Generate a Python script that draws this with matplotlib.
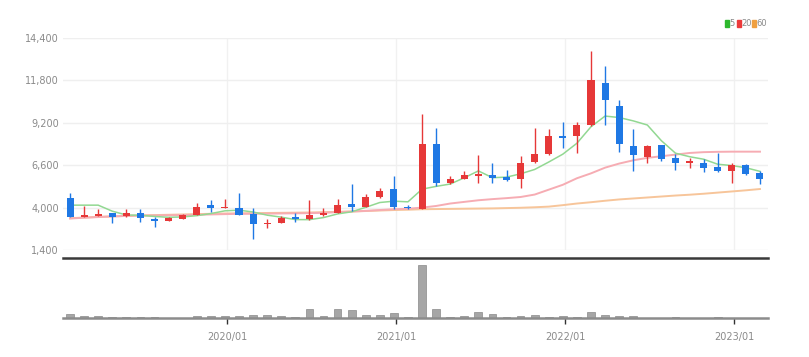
import matplotlib
matplotlib.use('Agg')
import matplotlib.pyplot as plt
from matplotlib.patches import Rectangle
import pandas as pd

# monthly candles, 2019/02 .. 2023/03
months = pd.date_range('2019-02-01', periods=50, freq='MS')

opens = [4610, 3450, 3510, 3650, 3480, 3650, 3320, 3180, 3320, 3550,
         4140, 3960, 3950, 3590, 2980, 3080, 3420, 3280, 3530, 3690,
         4200, 4060, 4650, 5120, 4060, 3940, 7920, 5490, 5775, 5940,
         6000, 5880, 5735, 6795, 7270, 8390, 8390, 9065, 11660, 10230,
         7780, 7125, 7820, 7065, 6735, 6760, 6490, 6245, 6595, 6100]
highs = [4880, 4100, 3940, 3680, 3940, 3940, 3400, 3420, 3620, 4260,
         4450, 4510, 4870, 4000, 3300, 3480, 3690, 4450, 4000, 4510,
         5470, 4820, 5230, 5940, 4180, 9720, 8900, 5940, 6250, 7225,
         6715, 6300, 7160, 8900, 8840, 9270, 9250, 13600, 12680, 10580,
         8800, 7850, 7850, 7270, 7065, 7000, 7370, 6760, 6700, 6250]
lows = [3420, 3430, 3500, 3080, 3450, 3120, 2830, 3150, 3300, 3520,
        3750, 3950, 3520, 2060, 2720, 3060, 3120, 3260, 3500, 3680,
        3790, 4040, 4600, 3900, 3900, 3900, 5330, 5450, 5750, 5530,
        5490, 5650, 5200, 6760, 7200, 7640, 7370, 9000, 9045, 7410,
        6245, 6760, 6860, 6290, 6450, 6185, 6200, 5530, 5980, 5430]
closes = [3450, 3550, 3630, 3450, 3650, 3360, 3200, 3360, 3570, 4040,
          4000, 4040, 3560, 3020, 3060, 3390, 3290, 3550, 3650, 4180,
          4040, 4670, 5020, 4060, 3980, 7920, 5530, 5735, 5980, 6085,
          5840, 5700, 6760, 7310, 8370, 8250, 9045, 11820, 10580, 7920,
          7225, 7780, 7000, 6760, 6840, 6450, 6245, 6595, 6085, 5735]
volumes = [800, 430, 430, 250, 250, 250, 250, 60, 60, 430,
           430, 320, 430, 560, 560, 430, 190, 1750, 430, 1750,
           1440, 560, 560, 1000, 190, 10000, 1750, 190, 380, 1130,
           750, 190, 380, 500, 190, 380, 190, 1130, 500, 430,
           380, 80, 80, 190, 60, 60, 190, 60, 60, 60]

# moving averages as drawn on the chart
ma5 = [4150, 4150, 4150, 3780, 3546, 3528, 3458, 3404, 3428, 3506,
       3634, 3802, 3842, 3732, 3536, 3414, 3264, 3262, 3388, 3612,
       3742, 4018, 4312, 4394, 4354, 5130, 5302, 5445, 5829, 6250,
       5834, 5868, 6073, 6339, 6796, 7278, 7947, 8959, 9613, 9523,
       9318, 9065, 8101, 7337, 7121, 6966, 6659, 6578, 6443, 6222]
ma20 = [3330, 3380, 3420, 3460, 3490, 3510, 3520, 3530, 3540, 3560,
        3580, 3600, 3620, 3620, 3630, 3640, 3650, 3660, 3680, 3720,
        3760, 3800, 3850, 3900, 3930, 4000, 4100, 4250, 4350, 4450,
        4520, 4580, 4650, 4800, 5100, 5400, 5800, 6100, 6450, 6700,
        6900, 7050, 7150, 7250, 7350, 7400, 7420, 7430, 7430, 7430]
ma60 = [3350, 3390, 3430, 3460, 3490, 3520, 3540, 3560, 3580, 3600,
        3620, 3640, 3650, 3660, 3670, 3680, 3690, 3700, 3720, 3740,
        3760, 3790, 3820, 3850, 3870, 3900, 3910, 3920, 3930, 3940,
        3950, 3970, 3990, 4020, 4060, 4150, 4250, 4330, 4420, 4500,
        4560, 4620, 4680, 4740, 4790, 4850, 4920, 4990, 5060, 5140]

yticks = [1400, 4000, 6600, 9200, 11800, 14400]
xtick_labels = ['2020/01', '2021/01', '2022/01', '2023/01']

RED = '#e63838'
BLUE = '#1f78e4'
LABEL = '#8a8a8a'
FONT = ['Liberation Sans Narrow', 'DejaVu Sans']

plt.rcParams['font.family'] = FONT

fig = plt.figure(figsize=(8.09, 3.57), dpi=100)
W, H = 809, 357
left, right = 63 / W, 768 / W
ax = fig.add_axes([left, (H - 250) / H, right - left, 212 / H])
axv = fig.add_axes([left, (H - 318) / H, right - left, 60 / H])

x = list(range(len(closes)))

# candles
for i in x:
    o, c = opens[i], closes[i]
    col = RED if c >= o else BLUE
    ax.vlines(i, lows[i], highs[i], color=col, lw=1, zorder=3)
    h = max(abs(c - o), 60)
    ax.bar(i, h, bottom=min(o, c), width=0.5, color=col, zorder=4)

ax.plot(x, ma60, color='#f7c59a', lw=1.4, zorder=2)
ax.plot(x, ma20, color='#f6acb3', lw=1.4, zorder=2)
ax.plot(x, ma5, color='#92d892', lw=1.1, zorder=2)

ax.set_xlim(-0.5, len(x) - 0.43)
ax.set_ylim(1400, 14400)
ax.set_yticks(yticks)
ax.set_yticklabels([f'{v:,}' for v in yticks])
ax.tick_params(axis='y', length=0, pad=3, labelsize=7, labelcolor=LABEL)
ax.set_xticks([])
for s in ax.spines.values():
    s.set_visible(False)
ax.grid(axis='y', color='#efefef', lw=1)

# year lines
year_idx = [i for i, m in enumerate(months) if m.month == 1]
for i in year_idx:
    ax.axvline(i + 0.15, color='#f1f1f1', lw=1, zorder=0)

# volume
axv.bar(x, volumes, width=0.55, color='#a6a6a6', edgecolor='#8a8a8a', lw=0.5)
axv.set_xlim(ax.get_xlim())
axv.set_ylim(0, 11250)
axv.set_yticks([])
axv.set_xticks([i + 0.15 for i in year_idx])
axv.set_xticklabels(xtick_labels)
axv.tick_params(axis='x', length=4, width=1, color='#333333', pad=6,
                labelsize=7, labelcolor=LABEL)
for s in ['left', 'right']:
    axv.spines[s].set_visible(False)
axv.spines['top'].set_color('#3a3a3a')
axv.spines['top'].set_linewidth(1.8)
axv.spines['bottom'].set_color('#8c8c8c')
axv.spines['bottom'].set_linewidth(1.8)

# legend
items = [('5', '#2db82d', 725), ('20', '#ec3a3a', 737), ('60', '#f0a040', 752)]
for lab, col, px in items:
    fig.patches.append(Rectangle((px / W, (H - 27) / H), 3.5 / W, 7 / H,
                                 transform=fig.transFigure, color=col))
    fig.text((px + 4.5) / W, (H - 24) / H, lab, fontsize=6, color=LABEL,
             va='center', ha='left')

plt.savefig('out.png', dpi=100)
